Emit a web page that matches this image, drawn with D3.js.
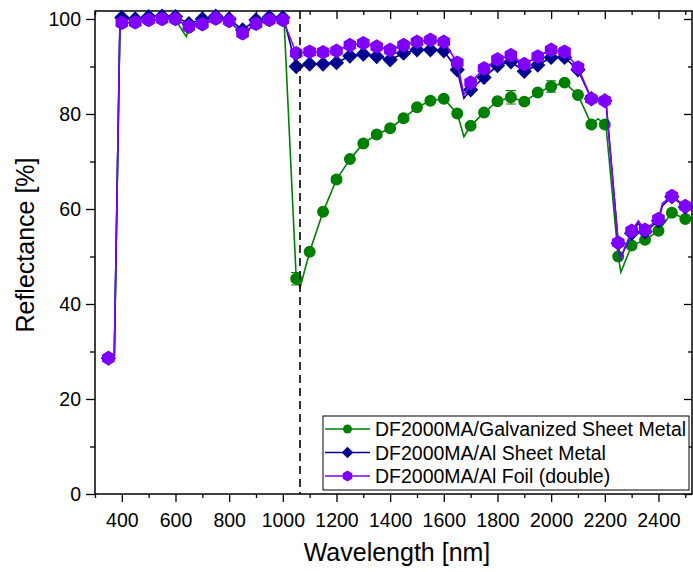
<!DOCTYPE html>
<html><head><meta charset="utf-8">
<script src="https://cdn.jsdelivr.net/npm/d3@7"></script>
<style>body{margin:0;background:#fff}svg{display:block;font-family:"Liberation Sans",Arial,sans-serif}</style>
</head><body><svg id="c" width="693" height="572"></svg>
<script>
// ---- data ----
const wavelengths = [350,400,450,500,550,600,650,700,750,800,850,900,950,1000,1050,1100,1150,1200,1250,1300,1350,1400,1450,1500,1550,1600,1650,1700,1750,1800,1850,1900,1950,2000,2050,2100,2150,2200,2250,2300,2350,2400,2450,2500];
const galvanized = [28.6,99.1,99.2,99.7,99.9,99.9,98.2,98.8,100.0,99.5,96.9,98.9,99.7,99.7,45.3,51.0,59.4,66.2,70.5,73.8,75.7,77.0,79.1,81.4,82.8,83.2,80.1,77.5,80.3,82.7,83.5,82.6,84.5,85.8,86.6,84.0,77.8,77.8,50.0,52.3,53.5,55.4,59.2,57.9];
const alSheet = [28.6,100.3,100.0,100.5,100.6,100.5,99.0,100.0,100.6,100.0,97.7,99.8,100.4,100.3,90.0,90.5,90.5,90.8,92.2,92.6,92.1,91.4,92.8,93.5,93.5,93.3,89.3,85.1,87.7,90.2,91.0,89.0,90.3,91.9,91.9,89.3,83.2,82.8,52.8,54.9,55.2,57.5,62.6,60.4];
const alFoil = [28.6,99.2,99.3,99.8,100.0,100.0,98.4,98.9,100.1,99.6,97.0,99.0,99.8,99.8,92.8,93.1,93.0,93.3,94.5,94.9,94.2,93.5,94.5,95.2,95.6,95.2,90.8,86.6,89.6,91.5,92.4,90.5,92.1,93.5,93.1,89.8,83.2,82.8,52.9,55.4,55.6,57.9,62.7,60.6];
// error bars (galvanized)
const galvErrWl = [1050,1200,1850,2000];
const galvErr = [1.3,0.6,1.4,1.2];
// extra spectrum points between markers (line features)
const galvLineWl = [372,393,640,1005,1065,1675,2175,2205,2260];
const galvLineVal = [29.2,99.0,96.3,99.2,43.6,75.2,79.0,77.2,46.7];
const sheetLineWl = [372,393,1005,1675,2205,2257,2325,2415];
const sheetLineVal = [29.2,99.7,99.7,83.3,82.2,49.5,57.0,60.7];
const foilLineWl = [372,393,1005,1675,2205,2257,2325,2415];
const foilLineVal = [29.2,99.0,99.2,84.0,82.2,49.3,57.5,61.2];
const xMajor = [400,600,800,1000,1200,1400,1600,1800,2000,2200,2400];
const xMinor = [300,500,700,900,1100,1300,1500,1700,1900,2100,2300,2500];
const yMajor = [0,20,40,60,80,100];
const yMinor = [10,30,50,70,90];
const seriesNames = ["DF2000MA/Galvanized Sheet Metal","DF2000MA/Al Sheet Metal","DF2000MA/Al Foil (double)"];
const seriesColors = ["#008000","#000090","#8000FF"];
const laserLine = 1064;

// ---- chart ----
const svg = d3.select("#c");
const L=95,R=692,T=11,B=494;
const x = d3.scaleLinear().domain([300,2525]).range([L,R]);
const y = d3.scaleLinear().domain([0,101.68]).range([B,T]);

function styleAxis(g){g.select(".domain").remove();g.selectAll("line").attr("stroke","#000").attr("stroke-width",1.3);g.selectAll("text").attr("fill","#000").style("font-size","19.5px").style("font-family","'Liberation Sans',Arial,sans-serif");}
// bottom
svg.append("g").attr("transform",`translate(0,${B})`).call(d3.axisBottom(x).tickValues(xMajor).tickSize(8).tickPadding(11).tickFormat(d3.format("d"))).call(styleAxis);
svg.append("g").attr("transform",`translate(0,${B})`).call(d3.axisBottom(x).tickValues(xMinor).tickSize(4).tickFormat("")).call(styleAxis);
// top (inward)
svg.append("g").attr("transform",`translate(0,${T})`).call(d3.axisBottom(x).tickValues(xMajor).tickSize(8).tickFormat("")).call(styleAxis);
svg.append("g").attr("transform",`translate(0,${T})`).call(d3.axisBottom(x).tickValues(xMinor).tickSize(4).tickFormat("")).call(styleAxis);
// left
svg.append("g").attr("transform",`translate(${L},0)`).call(d3.axisLeft(y).tickValues(yMajor).tickSize(9).tickPadding(5)).call(styleAxis);
svg.append("g").attr("transform",`translate(${L},0)`).call(d3.axisLeft(y).tickValues(yMinor).tickSize(5).tickFormat("")).call(styleAxis);
// right (inward)
svg.append("g").attr("transform",`translate(${R},0)`).call(d3.axisLeft(y).tickValues(yMajor).tickSize(8).tickFormat("")).call(styleAxis);
svg.append("g").attr("transform",`translate(${R},0)`).call(d3.axisLeft(y).tickValues(yMinor).tickSize(4).tickFormat("")).call(styleAxis);

// frame
svg.append("rect").attr("x",L).attr("y",T).attr("width",R-L).attr("height",B-T).attr("fill","none").attr("stroke","#000").attr("stroke-width",1.5);

// titles
svg.append("text").attr("x",397).attr("y",561).attr("text-anchor","middle").style("font-size","25px").text("Wavelength [nm]");
svg.append("text").attr("transform","translate(34,245) rotate(-90)").attr("text-anchor","middle").style("font-size","25px").text("Reflectance [%]");

// marker shapes
function hexPath(r){const p=[];for(let k=0;k<6;k++){const a=(-90+60*k)*Math.PI/180;p.push([r*Math.cos(a),r*Math.sin(a)]);}return "M"+p.map(q=>q.join(",")).join("L")+"Z";}
function diamondPath(r){return `M0,${-r}L${r},0L0,${r}L${-r},0Z`;}
function circlePath(r){return `M${r},0A${r},${r} 0 1,1 ${-r},0A${r},${r} 0 1,1 ${r},0Z`;}
const shapes=[r=>circlePath(r*0.82),r=>diamondPath(r*1.05),r=>hexPath(r)];

const plot = svg.append("g");
const dataSets=[[galvanized,galvLineWl,galvLineVal],[alSheet,sheetLineWl,sheetLineVal],[alFoil,foilLineWl,foilLineVal]];
const line = d3.line().x(d=>x(d[0])).y(d=>y(d[1]));
dataSets.forEach((ds,i)=>{
  const [vals,lw,lv]=ds;
  const pts = wavelengths.map((w,j)=>[w,vals[j]]).concat(lw.map((w,j)=>[w,lv[j]])).sort((a,b)=>a[0]-b[0]);
  const g = plot.append("g");
  g.append("path").attr("d",line(pts)).attr("fill","none").attr("stroke",seriesColors[i]).attr("stroke-width",1.6);
  if(i===0){
    galvErrWl.forEach((w,j)=>{
      const v = vals[wavelengths.indexOf(w)], e=galvErr[j];
      const cx=x(w);
      g.append("path").attr("d",`M${cx},${y(v-e)}L${cx},${y(v+e)}M${cx-5},${y(v-e)}L${cx+5},${y(v-e)}M${cx-5},${y(v+e)}L${cx+5},${y(v+e)}`).attr("stroke",seriesColors[i]).attr("stroke-width",1.2).attr("fill","none");
    });
  }
  g.selectAll("path.m").data(wavelengths.map((w,j)=>[w,vals[j]])).join("path").attr("class","m")
    .attr("transform",d=>`translate(${x(d[0])},${y(d[1])})`).attr("d",shapes[i](7.3)).attr("fill",seriesColors[i]);
});

// laser dashed line
svg.append("line").attr("x1",x(laserLine)).attr("x2",x(laserLine)).attr("y1",T).attr("y2",B).attr("stroke","#000").attr("stroke-width",1.6).attr("stroke-dasharray","8,5");

// legend
const lg = svg.append("g");
lg.append("rect").attr("x",323).attr("y",416).attr("width",366).attr("height",74).attr("fill","#fff").attr("stroke","#000").attr("stroke-width",1);
seriesNames.forEach((n,i)=>{
  const yy=429+i*23.5;
  lg.append("line").attr("x1",325).attr("x2",370).attr("y1",yy).attr("y2",yy).attr("stroke",seriesColors[i]).attr("stroke-width",1.6);
  lg.append("path").attr("transform",`translate(347.5,${yy})`).attr("d",shapes[i](5.5)).attr("fill",seriesColors[i]);
  lg.append("text").attr("x",375).attr("y",yy).attr("dy","0.36em").style("font-size","19.5px").text(n);
});
</script></body></html>
